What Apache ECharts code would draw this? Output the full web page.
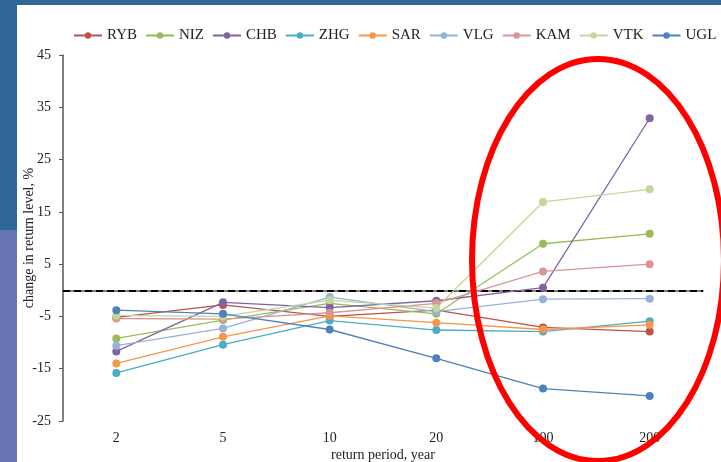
<!DOCTYPE html>
<html>
<head>
<meta charset="utf-8">
<script src="https://cdn.jsdelivr.net/npm/echarts@6/dist/echarts.min.js"></script>
<style>
html,body{margin:0;padding:0;background:#fff;}
#chart{width:721px;height:462px;}
</style>
</head>
<body>
<div id="chart"></div>
<script>
var categories = ['2', '5', '10', '20', '100', '200'];
var seriesNames = ['RYB', 'NIZ', 'CHB', 'ZHG', 'SAR', 'VLG', 'KAM', 'VTK', 'UGL'];
var RYB = [-5.2, -2.8, -5.0, -3.8, -7.1, -7.9];
var NIZ = [-9.2, -5.7, -2.5, -4.5, 8.9, 10.8];
var CHB = [-11.7, -2.3, -3.3, -2.0, 0.5, 32.9];
var ZHG = [-15.8, -10.4, -5.8, -7.6, -7.9, -5.9];
var SAR = [-14.0, -8.9, -4.9, -6.2, -7.5, -6.6];
var VLG = [-10.6, -7.3, -1.3, -4.1, -1.7, -1.6];
var KAM = [-5.4, -5.5, -4.3, -2.5, 3.6, 5.0];
var VTK = [-4.8, -5.0, -1.9, -3.4, 16.9, 19.3];
var UGL = [-3.8, -4.5, -7.5, -13.0, -18.8, -20.2];
var seriesData = [RYB, NIZ, CHB, ZHG, SAR, VLG, KAM, VTK, UGL];
var colors = ['#C0504D', '#9BBB59', '#8064A2', '#4BACC6', '#F79646', '#95B3D7', '#D99694', '#C3D69B', '#4F81BD'];

var font = 'Liberation Serif';
var chart = echarts.init(document.getElementById('chart'));
var series = seriesNames.map(function (n, i) {
  var s = {
    name: n,
    type: 'line',
    data: seriesData[i],
    symbol: 'circle',
    symbolSize: 8,
    lineStyle: { width: 1.3, color: colors[i] },
    itemStyle: { color: colors[i] },
    z: 3
  };
  if (i === 0) {
    s.markLine = {
      silent: true,
      symbol: 'none',
      label: { show: false },
      lineStyle: { color: '#000', width: 2, type: [7, 4] },
      data: [{ yAxis: 0 }],
      z: 1
    };
  }
  return s;
});

chart.setOption({
  animation: false,
  color: colors,
  legend: {
    top: 28,
    left: 73,
    width: 660,
    padding: 0,
    itemWidth: 28,
    itemHeight: 8,
    itemGap: 8,
    textStyle: { fontFamily: font, fontSize: 15, color: '#222' },
    data: seriesNames
  },
  grid: { left: 63, right: 18, top: 55, bottom: 41, outerBoundsMode: 'none', containLabel: false },
  xAxis: {
    type: 'category',
    data: categories,
    boundaryGap: true,
    name: 'return period, year',
    nameLocation: 'middle',
    nameGap: 27,
    nameMoveOverlap: false,
    nameTextStyle: { fontFamily: font, fontSize: 14, color: '#222' },
    axisLine: { lineStyle: { color: '#555', width: 1.5 } },
    axisTick: { alignWithLabel: true, inside: true, length: 4, lineStyle: { color: '#555' } },
    axisLabel: { fontFamily: font, fontSize: 14, color: '#222', margin: 10 }
  },
  yAxis: {
    type: 'value',
    min: -25,
    max: 45,
    interval: 10,
    name: 'change in return level, %',
    nameLocation: 'middle',
    nameGap: 27,
    nameMoveOverlap: false,
    nameTextStyle: { fontFamily: font, fontSize: 14, color: '#222' },
    splitLine: { show: false },
    axisLine: { show: true, lineStyle: { color: '#555', width: 1.5 } },
    axisTick: { show: true, inside: false, length: 4, lineStyle: { color: '#555' } },
    axisLabel: { fontFamily: font, fontSize: 14, color: '#222', margin: 12 }
  },
  graphic: [
    { type: 'rect', shape: { x: 0, y: 0, width: 721, height: 5 }, style: { fill: '#2F6898' }, z: 100 },
    { type: 'rect', shape: { x: 0, y: 0, width: 17, height: 230 }, style: { fill: '#2F6797' }, z: 100 },
    { type: 'rect', shape: { x: 0, y: 230, width: 17, height: 232 }, style: { fill: '#6674B4' }, z: 100 },
    { type: 'ellipse', shape: { cx: 598, cy: 260, rx: 126, ry: 201 }, style: { fill: null, stroke: '#FF0000', lineWidth: 6 }, z: 100 }
  ],
  series: series
});
</script>
</body>
</html>
